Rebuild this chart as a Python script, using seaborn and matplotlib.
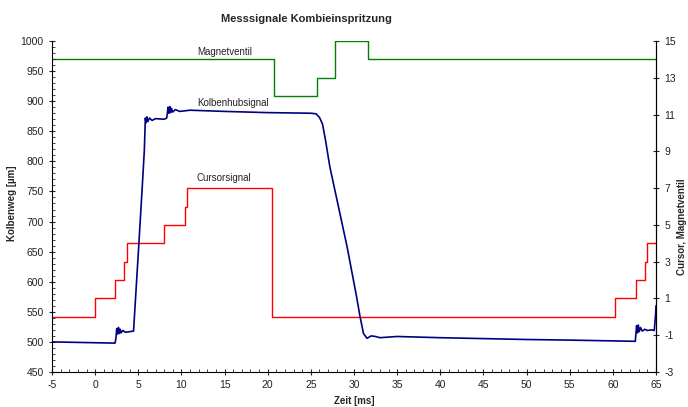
import numpy as np
import pandas as pd
import matplotlib
matplotlib.use("Agg")
import matplotlib.pyplot as plt
from matplotlib.ticker import MultipleLocator
import seaborn as sns

# Kolbenhubsignal (left axis, µm)
kolben_t = [-5, 2.3, 2.4, 2.5, 2.6, 2.7, 2.8, 2.9, 3.0, 3.2, 3.5, 4.0, 4.45,
            5.0, 5.4, 5.7, 5.82, 5.9, 6.0, 6.1, 6.3, 6.6, 7.0, 8.0, 8.3,
            8.45, 8.55, 8.65, 8.75, 8.85, 9.0, 9.3, 9.8, 11, 15, 20, 25,
            25.6, 26.0, 26.35, 26.7, 27.2, 29.2, 30.3, 30.7, 31.1, 31.5, 32.0,
            32.5, 33, 35, 40, 50, 55, 62.6, 62.75, 62.85, 62.95, 63.05,
            63.2, 63.4, 63.7, 64.0, 64.5, 64.8, 64.95, 65]
kolben_v = [500, 498, 505, 522, 513, 524, 514, 521, 515, 519, 516, 517, 518,
            647, 743, 818, 872, 864, 874, 866, 872, 868, 871, 870, 872,
            890, 880, 891, 881, 888, 882, 886, 883, 885, 883, 881, 880,
            879, 873, 862, 835, 791, 658, 575, 542, 514, 506, 510,
            509, 507, 509, 507, 504, 503, 501, 527, 515, 528, 517,
            524, 518, 521, 519, 520, 519, 545, 560]

# Cursorsignal (right axis, step)
cursor_t = [-5, 0, 2.3, 3.35, 3.7, 7.95, 10.4, 10.7, 20.5, 60.3, 62.7, 63.7, 64.0, 65]
cursor_v = [0, 1, 2, 3, 4, 5, 6, 7, 0, 1, 2, 3, 4, 4]

# Magnetventil (right axis, step)
magnet_t = [-5, 20.7, 25.7, 27.8, 31.6, 65]
magnet_v = [14, 12, 13, 15, 14, 14]

sns.set_style("ticks")
plt.rcParams['font.family'] = ['Liberation Sans', 'DejaVu Sans']
plt.rcParams['font.size'] = 7
plt.rcParams['axes.unicode_minus'] = False

fig = plt.figure(figsize=(6.88, 4.07), dpi=100)
ax = fig.add_axes([52/688, 1-372/407, 604/688, 331/407])
ax2 = ax.twinx()

sns.lineplot(x=cursor_t, y=cursor_v, ax=ax2, color='#ff0000', linewidth=1.0,
             drawstyle='steps-post', estimator=None)
sns.lineplot(x=magnet_t, y=magnet_v, ax=ax2, color='#008000', linewidth=1.0,
             drawstyle='steps-post', estimator=None)
sns.lineplot(x=kolben_t, y=kolben_v, ax=ax, color='#000080', linewidth=1.2,
             estimator=None)

ax.set_zorder(ax2.get_zorder() + 1)
ax.patch.set_visible(False)

ax.set_xlim(-5, 65)
ax.set_ylim(450, 1000)
ax2.set_ylim(-3, 15)

ax.xaxis.set_major_locator(MultipleLocator(5))
ax.xaxis.set_minor_locator(MultipleLocator(1))
ax.yaxis.set_major_locator(MultipleLocator(50))
ax.yaxis.set_minor_locator(MultipleLocator(10))
ax2.set_yticks(np.arange(-3, 16, 2))

for a in (ax, ax2):
    a.spines['top'].set_visible(False)
    for s in a.spines.values():
        s.set_linewidth(0.8)
        s.set_color('black')
    a.tick_params(which='major', direction='inout', length=5, width=0.8,
                  labelsize=7.5, colors='#222222')
    a.tick_params(which='minor', direction='in', length=2.5, width=0.6)
ax2.spines['left'].set_visible(False)
ax2.spines['bottom'].set_visible(False)

ax.set_xlabel("Zeit [ms]", fontsize=7, fontweight='bold')
ax.xaxis.set_label_coords(0.5, -0.072)
ax.set_ylabel("Kolbenweg [µm]", fontsize=7, fontweight='bold')
ax.yaxis.set_label_coords(-0.058, 0.51)
ax2.set_ylabel("Cursor, Magnetventil", fontsize=7, fontweight='bold')
ax2.yaxis.set_label_coords(1.034, 0.44)

ax.text(11.8, 982, "Magnetventil", fontsize=7, va='center', color='#222222')
ax.text(11.8, 897, "Kolbenhubsignal", fontsize=7, va='center', color='#222222')
ax.text(11.8, 772, "Cursorsignal", fontsize=7, va='center', color='#222222')

fig.text(306.5/688, 1-19/407, "Messsignale Kombieinspritzung", ha='center',
         va='center', fontsize=8, fontweight='bold')

fig.savefig("out.png", dpi=100)
